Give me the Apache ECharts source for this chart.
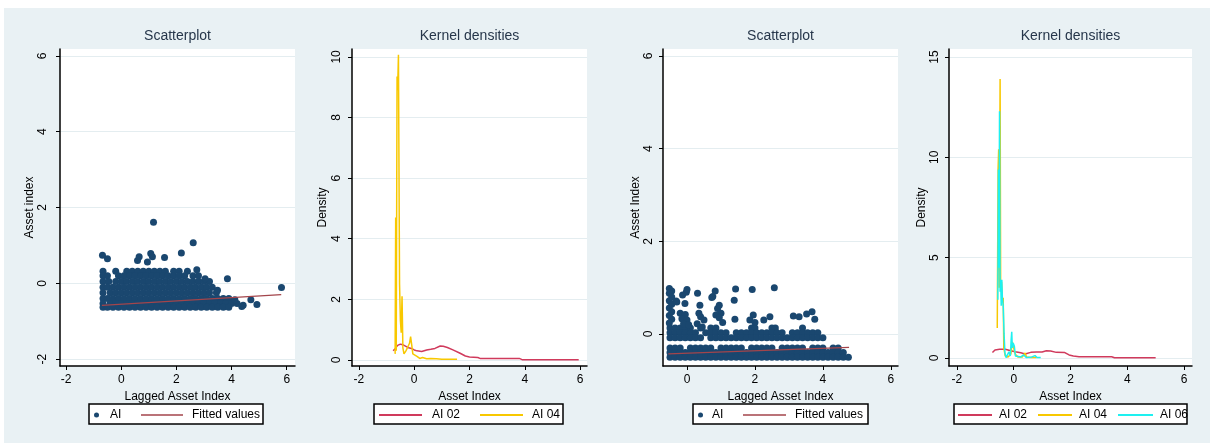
<!DOCTYPE html>
<html>
<head>
<meta charset="utf-8">
<script src="https://cdn.jsdelivr.net/npm/echarts@6/dist/echarts.min.js"></script>
<style>
  html, body { margin: 0; padding: 0; background: #ffffff; }
  #bg { position: absolute; left: 4px; top: 8px; width: 1206px; height: 435px; background: #e9f1f4; }
  #chart { position: absolute; left: 0; top: 0; width: 1210px; height: 443px; }
</style>
</head>
<body>
<div id="bg"></div>
<div id="chart"></div>
<script>
// ---------- tick labels ----------
const xTicks = [-2, 0, 2, 4, 6];
const xTicksP3 = [0, 2, 4, 6];
const yTicksP1 = [-2, 0, 2, 4, 6];
const yTicksP2 = [0, 2, 4, 6, 8, 10];
const yTicksP3 = [0, 2, 4, 6];
const yTicksP4 = [0, 5, 10, 15];

// ---------- panel 1: scatter AI vs lagged AI (rows: [y, [x...]]) ----------
const p1Rows = [
  [0.32, [-0.66, -0.2, 0.2, 0.4, 0.6, 0.8, 1.0, 1.2, 1.4, 1.6, 1.9, 2.1, 2.4]],
  [0.2, [-0.66, -0.5, -0.1, 0.1, 0.3, 0.5, 0.7, 0.9, 1.1, 1.3, 1.5, 1.7, 1.9, 2.1, 2.3, 2.6, 2.8]],
  [0.05, [-0.66, -0.45, -0.2, 0.0, 0.2, 0.4, 0.6, 0.8, 1.0, 1.2, 1.4, 1.6, 1.8, 2.0, 2.2, 2.4, 2.6, 2.8, 3.0, 3.2]],
  [-0.1, [-0.66, -0.5, -0.3, -0.1, 0.1, 0.3, 0.5, 0.7, 0.9, 1.1, 1.3, 1.5, 1.7, 1.9, 2.1, 2.3, 2.5, 2.7, 2.9, 3.1, 3.3]],
  [-0.25, [-0.66, -0.4, -0.2, 0.0, 0.2, 0.4, 0.6, 0.8, 1.0, 1.2, 1.4, 1.6, 1.8, 2.0, 2.2, 2.4, 2.6, 2.8, 3.0, 3.2, 3.45]],
  [-0.4, [-0.66, -0.5, -0.3, -0.1, 0.1, 0.3, 0.5, 0.7, 0.9, 1.1, 1.3, 1.5, 1.7, 1.9, 2.1, 2.3, 2.5, 2.7, 2.9, 3.1, 3.3, 3.5, 3.7, 3.9]],
  [-0.53, [-0.66, -0.4, -0.2, 0.0, 0.2, 0.4, 0.6, 0.8, 1.0, 1.2, 1.4, 1.6, 1.8, 2.0, 2.2, 2.4, 2.6, 2.8, 3.0, 3.2, 3.4, 3.6, 3.8, 4.0, 4.2]],
  [-0.63, [-0.66, -0.5, -0.3, -0.1, 0.1, 0.3, 0.5, 0.7, 0.9, 1.1, 1.3, 1.5, 1.7, 1.9, 2.1, 2.3, 2.5, 2.7, 2.9, 3.1, 3.3, 3.5, 3.7, 3.9]]
];
const p1Outliers = [
  [1.17, 1.61], [2.61, 1.07], [-0.68, 0.74], [-0.5, 0.65], [0.59, 0.6], [0.65, 0.7],
  [0.95, 0.56], [1.07, 0.79], [1.13, 0.7], [1.57, 0.68], [2.18, 0.8], [2.74, 0.36],
  [3.04, 0.12], [3.49, -0.18], [3.85, 0.12], [5.81, -0.11], [4.12, -0.43], [4.42, -0.58],
  [4.7, -0.43], [4.92, -0.56], [4.37, -0.61]
];
const p1Fitted = [[-0.7, -0.58], [5.8, -0.3]];

// ---------- panel 2: kernel densities ----------
const kd2AI02 = [
  [-0.76, 0.3], [-0.68, 0.38], [-0.6, 0.48], [-0.5, 0.52], [-0.4, 0.5], [-0.3, 0.45], [-0.2, 0.4],
  [-0.1, 0.38], [0.0, 0.33], [0.1, 0.3], [0.27, 0.28], [0.45, 0.33], [0.6, 0.35], [0.75, 0.38],
  [0.94, 0.46], [1.05, 0.45], [1.2, 0.41], [1.4, 0.33], [1.66, 0.22], [1.85, 0.13], [2.0, 0.1],
  [2.3, 0.08], [2.38, 0.05], [3.0, 0.05], [3.8, 0.05], [3.9, 0.01], [5.95, 0.01]
];
const kd2AI04 = [
  [-0.69, 0.2], [-0.67, 4.7], [-0.65, 0.3], [-0.62, 9.35], [-0.6, 8.9], [-0.57, 10.07], [-0.53, 2.5],
  [-0.5, 1.3], [-0.47, 0.9], [-0.44, 2.1], [-0.41, 0.4], [-0.37, 0.2], [-0.3, 0.3], [-0.22, 0.45],
  [-0.17, 0.55], [-0.13, 0.77], [-0.09, 0.5], [-0.05, 0.2], [0.0, 0.15], [0.1, 0.12], [0.2, 0.05],
  [0.3, 0.08], [0.45, 0.04], [0.6, 0.05], [0.8, 0.04], [1.0, 0.02], [1.3, 0.02], [1.55, 0.02]
];

// ---------- panel 3: scatter (rows: [y, [x...]]) ----------
const p3Rows = [
  [0.13, [-0.5, -0.35, -0.2, -0.05, 0.1, 0.4, 0.7, 0.85, 1.9, 2.0, 2.5, 2.6, 3.4]],
  [0.03, [-0.5, -0.35, -0.2, -0.05, 0.1, 0.25, 0.55, 0.7, 0.85, 1.0, 1.15, 1.45, 1.6, 1.75, 1.9, 2.05, 2.2, 2.35, 2.5, 2.65, 2.8, 3.1, 3.25, 3.4, 3.55, 3.7, 3.85]],
  [-0.08, [-0.5, -0.35, -0.2, -0.05, 0.1, 0.25, 0.4, 0.7, 0.85, 1.0, 1.15, 1.3, 1.45, 1.6, 1.75, 1.9, 2.05, 2.2, 2.35, 2.5, 2.65, 2.8, 2.95, 3.1, 3.25, 3.4, 3.55, 3.7, 3.85, 4.0]],
  [-0.3, [-0.5, -0.35, -0.2, 0.1, 0.25, 0.4, 0.55, 0.7, 1.0, 1.15, 1.3, 1.45, 1.6, 1.9, 2.05, 2.2, 2.35, 2.5, 2.8, 2.95, 3.1, 3.25, 3.4, 3.7, 3.85, 4.0, 4.3, 4.45]],
  [-0.4, [-0.5, -0.35, -0.2, -0.05, 0.1, 0.25, 0.4, 0.55, 0.7, 0.85, 1.0, 1.15, 1.3, 1.45, 1.6, 1.75, 1.9, 2.05, 2.2, 2.35, 2.5, 2.65, 2.8, 2.95, 3.1, 3.25, 3.4, 3.55, 3.7, 3.85, 4.0, 4.15, 4.3, 4.45, 4.6]],
  [-0.5, [-0.5, -0.35, -0.2, -0.05, 0.1, 0.25, 0.4, 0.55, 0.7, 0.85, 1.0, 1.15, 1.3, 1.45, 1.6, 1.75, 1.9, 2.05, 2.2, 2.35, 2.5, 2.65, 2.8, 2.95, 3.1, 3.25, 3.4, 3.55, 3.7, 3.85, 4.0, 4.15, 4.3, 4.45, 4.6, 4.75]]
];
const p3Points = [
  [-0.52, 0.98], [-0.45, 0.93], [-0.52, 0.88], [-0.45, 0.8], [-0.52, 0.72], [-0.45, 0.64],
  [-0.52, 0.56], [-0.45, 0.48], [-0.52, 0.4], [-0.45, 0.32], [-0.52, 0.24],
  [-0.32, 0.71], [-0.3, 0.69], [-0.06, 0.66], [-0.13, 0.84], [-0.02, 0.9], [0.0, 0.96],
  [0.31, 0.88], [0.38, 0.62], [0.76, 0.81], [0.83, 0.93], [0.73, 0.79], [0.95, 0.62],
  [1.39, 0.73], [1.43, 0.97], [1.92, 0.96], [2.57, 1.0],
  [-0.2, 0.45], [-0.05, 0.42], [-0.15, 0.33], [0.0, 0.3], [-0.1, 0.22], [0.05, 0.2],
  [0.35, 0.45], [0.4, 0.37], [0.5, 0.3], [0.3, 0.22], [0.45, 0.15],
  [0.9, 0.55], [1.0, 0.45], [0.85, 0.41], [0.95, 0.35], [1.05, 0.25],
  [1.41, 0.32], [1.95, 0.41], [1.85, 0.3], [2.0, 0.25], [2.26, 0.3], [2.44, 0.37],
  [3.13, 0.39], [3.3, 0.37], [3.52, 0.43], [3.68, 0.48], [3.76, 0.32]
];
const p3Fitted = [[-0.55, -0.43], [4.77, -0.29]];

// ---------- panel 4: kernel densities ----------
const kd4AI02 = [
  [-0.75, 0.27], [-0.66, 0.4], [-0.5, 0.43], [-0.3, 0.43], [-0.1, 0.36], [0.05, 0.31], [0.25, 0.26],
  [0.4, 0.2], [0.6, 0.28], [0.8, 0.3], [1.0, 0.3], [1.15, 0.36], [1.3, 0.35], [1.5, 0.28],
  [1.8, 0.27], [1.95, 0.15], [2.1, 0.1], [2.3, 0.06], [3.0, 0.06], [3.45, 0.06], [3.55, 0.01],
  [4.5, 0.01], [5.0, 0.01]
];
const kd4AI04 = [
  [-0.58, 1.5], [-0.55, 9.4], [-0.53, 10.4], [-0.51, 3.5], [-0.48, 13.9], [-0.46, 3.4], [-0.43, 3.8],
  [-0.4, 2.9], [-0.37, 3.0], [-0.35, 0.5], [-0.3, 0.1], [-0.2, 0.05], [-0.1, 0.2], [-0.05, 0.8],
  [0.0, 0.75], [0.05, 0.2], [0.15, 0.05], [0.3, 0.05], [0.4, 0.25], [0.45, 0.05], [0.6, 0.02], [0.8, 0.02]
];
const kd4AI06 = [
  [-0.56, 2.9], [-0.54, 9.4], [-0.52, 4.5], [-0.5, 12.3], [-0.48, 3.3], [-0.46, 3.9], [-0.44, 2.6],
  [-0.42, 3.9], [-0.4, 3.0], [-0.37, 2.6], [-0.34, 1.2], [-0.31, 0.25], [-0.27, 0.02], [-0.22, 0.02],
  [-0.17, 0.3], [-0.12, 0.1], [-0.09, 0.9], [-0.07, 1.3], [-0.05, 0.5], [-0.02, 0.75], [0.02, 0.6],
  [0.06, 0.1], [0.12, 0.02], [0.25, 0.05], [0.35, 0.15], [0.45, 0.02], [0.6, 0.03], [0.75, 0.12],
  [0.82, 0.02], [0.95, 0.02]
];

// ---------- styling ----------
const FONT = "'Liberation Sans', Arial, sans-serif";
const NAVY = '#1a476f';
const MAROON = '#a3454b';
const RED = '#d03a5c';
const GOLD = '#f8c800';
const CYAN = '#1ef0f0';

function rowsToPoints(rows) {
  const out = [];
  rows.forEach(([y, xs]) => xs.forEach(x => out.push([x, y])));
  return out;
}

function xAxisCfg(gi, min, max, ticks, name, labelMargin, nameGap) {
  return {
    type: 'value', gridIndex: gi, min: min, max: max,
    name: name, nameLocation: 'middle', nameGap: nameGap,
    nameTextStyle: { color: '#000', fontSize: 12, fontFamily: FONT },
    axisLine: { show: true, onZero: false, lineStyle: { color: '#000', width: 1.5 } },
    axisTick: { show: true, length: 4, customValues: ticks, lineStyle: { color: '#000', width: 1 } },
    axisLabel: { customValues: ticks, margin: labelMargin, color: '#000', fontSize: 12, fontFamily: FONT,
      formatter: v => String(v) },
    splitLine: { show: false }
  };
}
function yAxisCfg(gi, min, max, ticks, name, labelMargin, nameGap) {
  return {
    type: 'value', gridIndex: gi, min: min, max: max,
    name: name, nameLocation: 'middle', nameGap: nameGap, nameRotate: 90,
    nameTextStyle: { color: '#000', fontSize: 12, fontFamily: FONT },
    axisLine: { show: true, onZero: false, lineStyle: { color: '#000', width: 1.5 } },
    axisTick: { show: true, length: 4, customValues: ticks, lineStyle: { color: '#000', width: 1 } },
    axisLabel: { customValues: ticks, rotate: 90, margin: labelMargin, color: '#000', fontSize: 12, fontFamily: FONT,
      formatter: v => String(v) },
    splitLine: { show: true, customValues: ticks, lineStyle: { color: '#e4edf0', width: 1 } }
  };
}

function titleCfg(text, cx) {
  return { text: text, left: cx, top: 29, textAlign: 'center', padding: 0,
    textStyle: { fontSize: 14, fontWeight: 'normal', color: '#26364a', fontFamily: FONT } };
}
function legendItem(name, left, icon, w, h, textPad) {
  return {
    data: [{ name: name, icon: icon }], left: left, top: 409, padding: 0, z: 10,
    itemWidth: w, itemHeight: h, selectedMode: false,
    textStyle: { fontSize: 12, color: '#000', fontFamily: FONT, padding: [0, 0, 0, textPad] }
  };
}
function boxRect(x, w) {
  return { type: 'rect', z: 5, shape: { x: x, y: 404, width: w, height: 20 },
    style: { fill: '#ffffff', stroke: '#000000', lineWidth: 1.5 } };
}

const scatterStyle = { color: NAVY, opacity: 1, borderWidth: 0 };

const option = {
  backgroundColor: 'transparent',
  animation: false,
  title: [
    titleCfg('Scatterplot', 177.5),
    titleCfg('Kernel densities', 469.5),
    titleCfg('Scatterplot', 780.5),
    titleCfg('Kernel densities', 1070.5)
  ],
  grid: [
    { left: 60, top: 49, width: 235, height: 317, show: true, backgroundColor: '#ffffff', borderWidth: 0 },
    { left: 352, top: 49, width: 235, height: 317, show: true, backgroundColor: '#ffffff', borderWidth: 0 },
    { left: 663, top: 49, width: 235, height: 317, show: true, backgroundColor: '#ffffff', borderWidth: 0 },
    { left: 949, top: 49, width: 243, height: 317, show: true, backgroundColor: '#ffffff', borderWidth: 0 }
  ],
  xAxis: [
    xAxisCfg(0, -2.22, 6.3, xTicks, 'Lagged Asset Index', 8, 18),
    xAxisCfg(1, -2.25, 6.25, xTicks, 'Asset Index', 8, 18),
    xAxisCfg(2, -0.706, 6.21, xTicksP3, 'Lagged Asset Index', 8, 18),
    xAxisCfg(3, -2.28, 6.28, xTicks, 'Asset Index', 8, 18)
  ],
  yAxis: [
    yAxisCfg(0, -2.18, 6.18, yTicksP1, 'Asset index', 11, 23),
    yAxisCfg(1, -0.2, 10.26, yTicksP2, 'Density', 9, 23),
    yAxisCfg(2, -0.69, 6.15, yTicksP3, 'Asset Index', 8, 21),
    yAxisCfg(3, -0.4, 15.4, yTicksP4, 'Density', 8, 15)
  ],
  legend: [
    legendItem('AI', 94, 'circle', 5, 5, 6),
    legendItem('Fitted values', 141, 'rect', 42, 1.5, 4),
    legendItem('AI 02', 379, 'rect', 43, 2, 5),
    legendItem('AI 04', 480, 'rect', 43, 2, 4),
    legendItem('AI', 698, 'circle', 5, 5, 4),
    legendItem('Fitted values', 743, 'rect', 43, 1.5, 4),
    legendItem('AI 02', 958, 'rect', 34, 2, 2),
    legendItem('AI 04', 1038, 'rect', 34, 2, 2),
    legendItem('AI 06', 1118, 'rect', 35, 2, 2)
  ],
  graphic: [boxRect(89, 174), boxRect(374, 189), boxRect(693, 175), boxRect(954, 233)],
  series: [
    { name: 'AI', type: 'scatter', xAxisIndex: 0, yAxisIndex: 0, symbol: 'circle', symbolSize: 7,
      color: NAVY, itemStyle: scatterStyle, data: rowsToPoints(p1Rows).concat(p1Outliers) },
    { name: 'Fitted values', type: 'line', xAxisIndex: 0, yAxisIndex: 0, symbol: 'none', color: MAROON,
      lineStyle: { color: MAROON, width: 1.3 }, data: p1Fitted },
    { name: 'AI 02', type: 'line', xAxisIndex: 1, yAxisIndex: 1, symbol: 'none', color: RED,
      lineStyle: { color: RED, width: 1.5 }, data: kd2AI02 },
    { name: 'AI 04', type: 'line', xAxisIndex: 1, yAxisIndex: 1, symbol: 'none', color: GOLD,
      lineStyle: { color: GOLD, width: 1.5 }, data: kd2AI04 },
    { name: 'AI', type: 'scatter', xAxisIndex: 2, yAxisIndex: 2, symbol: 'circle', symbolSize: 7,
      color: NAVY, itemStyle: scatterStyle, data: rowsToPoints(p3Rows).concat(p3Points) },
    { name: 'Fitted values', type: 'line', xAxisIndex: 2, yAxisIndex: 2, symbol: 'none', color: MAROON,
      lineStyle: { color: MAROON, width: 1.3 }, data: p3Fitted },
    { name: 'AI 02', type: 'line', xAxisIndex: 3, yAxisIndex: 3, symbol: 'none', color: RED,
      lineStyle: { color: RED, width: 1.5 }, data: kd4AI02 },
    { name: 'AI 04', type: 'line', xAxisIndex: 3, yAxisIndex: 3, symbol: 'none', color: GOLD,
      lineStyle: { color: GOLD, width: 1.5 }, data: kd4AI04 },
    { name: 'AI 06', type: 'line', xAxisIndex: 3, yAxisIndex: 3, symbol: 'none', color: CYAN,
      lineStyle: { color: CYAN, width: 1.5 }, data: kd4AI06 }
  ]
};

const chart = echarts.init(document.getElementById('chart'), null, { renderer: 'canvas' });
chart.setOption(option);
</script>
</body>
</html>
